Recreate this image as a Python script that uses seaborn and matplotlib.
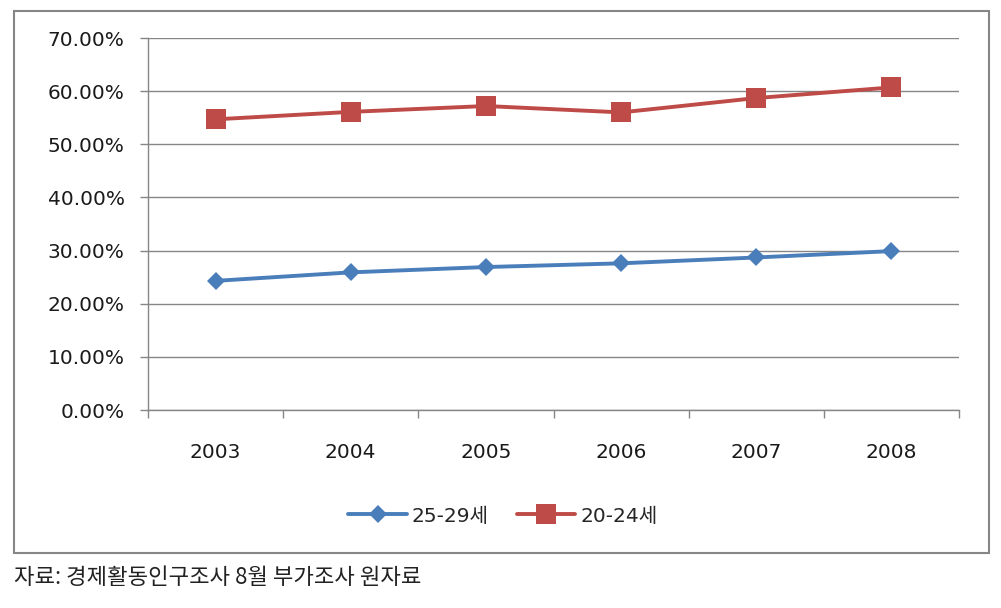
import matplotlib
matplotlib.use("Agg")
import matplotlib.pyplot as plt
from matplotlib.patches import Rectangle
from matplotlib.ticker import PercentFormatter
import seaborn as sns
import pandas as pd

years = ["2003", "2004", "2005", "2006", "2007", "2008"]
series_25_29 = [24.3, 25.9, 26.9, 27.6, 28.7, 29.9]
series_20_24 = [54.7, 56.1, 57.2, 56.0, 58.7, 60.7]
series_names = ["25-29세", "20-24세"]
yticks = [0, 10, 20, 30, 40, 50, 60, 70]
caption = "자료: 경제활동인구조사 8월 부가조사 원자료"

sns.set_style("white")
plt.rcParams["font.family"] = ["DejaVu Sans", "Noto Sans CJK KR"]

W, H = 1001, 608
fig = plt.figure(figsize=(W / 100, H / 100), dpi=100)
ax = fig.add_axes([148 / W, 1 - 410 / H, (959 - 148) / W, (410 - 38) / H])

gray = "#868686"
colors = ["#4A7EBB", "#BE4B48"]
markers = ["D", "s"]
msizes = [9.5, 14]

df = pd.DataFrame({
    "year": years * 2,
    "value": series_25_29 + series_20_24,
    "series": [series_names[0]] * len(years) + [series_names[1]] * len(years),
})
df["pos"] = df["year"].map({y: i for i, y in enumerate(years)})

for name, c, m, ms in zip(series_names, colors, markers, msizes):
    sub = df[df["series"] == name]
    sns.lineplot(data=sub, x="pos", y="value", ax=ax, color=c, marker=m,
                 markersize=ms, markeredgewidth=0, linewidth=2.8, label=name,
                 sort=False, zorder=3)

ax.set_xlim(-0.5, len(years) - 0.5)
ax.set_ylim(0, 70)
ax.set_yticks(yticks)
ax.yaxis.set_major_formatter(PercentFormatter(decimals=2))
ax.set_xticks(range(len(years)))
ax.set_xticklabels(years)
ax.set_xticks([i - 0.5 for i in range(len(years) + 1)], minor=True)
ax.set_xlabel("")
ax.set_ylabel("")

ax.grid(axis="y", color=gray, linewidth=1.0)
ax.grid(axis="x", visible=False)
ax.set_axisbelow(True)
for s in ["top", "right"]:
    ax.spines[s].set_visible(False)
for s in ["left", "bottom"]:
    ax.spines[s].set_color(gray)
    ax.spines[s].set_linewidth(1.0)

ax.tick_params(axis="y", which="major", length=5.8, width=1.0, color=gray,
               direction="out", left=True, pad=11, labelsize=14.5, labelcolor="#1a1a1a")
ax.tick_params(axis="x", which="major", length=0, pad=24, labelsize=14.5,
               labelcolor="#1a1a1a")
ax.tick_params(axis="x", which="minor", length=5.8, width=1.0, color=gray,
               direction="out", bottom=True)

ax.get_legend().remove()
handles, labels = ax.get_legend_handles_labels()
fig.legend(handles, labels, loc="center", bbox_to_anchor=(503 / W, 1 - 516 / H),
           ncol=2, frameon=False, fontsize=14.5, handlelength=2.9,
           handletextpad=0.25, columnspacing=1.4)

fig.patches.append(Rectangle((14 / W, 1 - 553 / H), (989 - 14) / W, (553 - 11) / H,
                             transform=fig.transFigure, fill=False,
                             edgecolor=gray, linewidth=1.5))

fig.text(14 / W, 1 - 578 / H, caption, va="center", ha="left", fontsize=16,
         family=["Noto Sans CJK KR", "DejaVu Sans"], color="#222222",
         fontweight="light")

fig.savefig("out.png", dpi=100, facecolor="white")
